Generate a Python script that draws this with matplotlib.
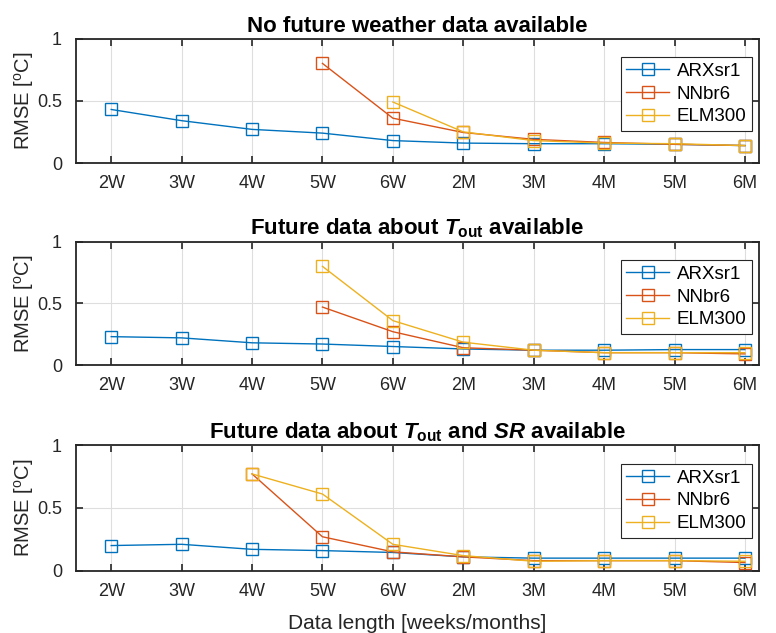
import numpy as np
import matplotlib.pyplot as plt

plt.rcParams['font.family'] = ['Liberation Sans', 'DejaVu Sans']
plt.rcParams['mathtext.fontset'] = 'custom'
plt.rcParams['mathtext.rm'] = 'Liberation Sans'
plt.rcParams['mathtext.it'] = 'Liberation Sans:italic'
plt.rcParams['mathtext.bf'] = 'Liberation Sans:bold'
plt.rcParams['mathtext.bfit'] = 'Liberation Sans:bold:italic'

lengths = ['2W', '3W', '4W', '5W', '6W', '2M', '3M', '4M', '5M', '6M']

# panel 1: no future weather data
arx_1 = [0.43, 0.34, 0.27, 0.24, 0.18, 0.16, 0.155, 0.155, 0.15, 0.14]
nn_1 = [None, None, None, 0.80, 0.36, 0.245, 0.19, 0.165, 0.15, 0.14]
elm_1 = [None, None, None, None, 0.49, 0.25, 0.18, 0.16, 0.155, 0.14]

# panel 2: future T_out
arx_2 = [0.23, 0.22, 0.18, 0.17, 0.15, 0.13, 0.12, 0.12, 0.125, 0.125]
nn_2 = [None, None, None, 0.47, 0.27, 0.14, 0.12, 0.10, 0.10, 0.09]
elm_2 = [None, None, None, 0.80, 0.36, 0.185, 0.12, 0.10, 0.10, 0.10]

# panel 3: future T_out and SR
arx_3 = [0.20, 0.21, 0.17, 0.16, 0.145, 0.11, 0.10, 0.10, 0.10, 0.10]
nn_3 = [None, None, 0.77, 0.27, 0.15, 0.11, 0.08, 0.08, 0.08, 0.065]
elm_3 = [None, None, 0.77, 0.61, 0.21, 0.12, 0.075, 0.08, 0.08, 0.075]

titles = ['No future weather data available',
          r'Future data about $\mathbfit{T}_{\mathbf{out}}$ available',
          r'Future data about $\mathbfit{T}_{\mathbf{out}}$ and $\mathbfit{SR}$ available']

data = [(arx_1, nn_1, elm_1), (arx_2, nn_2, elm_2), (arx_3, nn_3, elm_3)]
names = ['ARXsr1', 'NNbr6', 'ELM300']
colors = ['#0072BD', '#D95319', '#EDB120']

fig = plt.figure(figsize=(7.76, 6.33), dpi=100)
W, H = 776, 633
# axes boxes in pixels: (top, bottom)
boxes = [(38.5, 163), (241.7, 365), (445, 570.7)]
left, right = 76, 759

x = np.arange(1, len(lengths) + 1)
axes = []
for i, (top, bot) in enumerate(boxes):
    ax = fig.add_axes([left / W, 1 - bot / H, (right - left) / W, (bot - top) / H])
    axes.append(ax)
    for vals, nm, c in zip(data[i], names, colors):
        y = np.array([np.nan if v is None else v for v in vals])
        ax.plot(x, y, color=c, lw=1.0, marker='s', markersize=9,
                markerfacecolor='none', markeredgewidth=1.0, label=nm)
    ax.set_xlim(0.5, 10.2)
    ax.set_ylim(0, 1)
    ax.set_xticks(x)
    ax.set_xticklabels(lengths)
    ax.set_yticks([0, 0.5, 1])
    ax.set_yticklabels(['0', '0.5', '1'])
    ax.grid(True, color='#dedede', lw=0.8)
    ax.set_axisbelow(True)
    ax.tick_params(direction='in', length=5, width=1.2, top=True, right=True,
                   labelsize=13, colors='#262626')
    ax.tick_params(axis='x', pad=9)
    ax.tick_params(axis='y', pad=10)
    for s in ax.spines.values():
        s.set_linewidth(1.3)
        s.set_color('#262626')
    ax.set_title(titles[i], fontsize=16, fontweight='bold', color='black', pad=5)
    ax.set_ylabel(r'RMSE [$^{\rm o}$C]', fontsize=14.5, color='#262626', labelpad=1)
    leg = ax.legend(loc='upper right', bbox_to_anchor=(0.99, 0.85), borderaxespad=0,
                    fontsize=13.5, handlelength=2.3, fancybox=False, framealpha=1,
                    edgecolor='#262626', labelspacing=0.3, borderpad=0.3,
                    handletextpad=0.4)
    leg.get_frame().set_linewidth(0.8)

axes[-1].set_xlabel('Data length [weeks/months]', fontsize=15, color='#262626', labelpad=10)

fig.savefig('out.png', dpi=100)
